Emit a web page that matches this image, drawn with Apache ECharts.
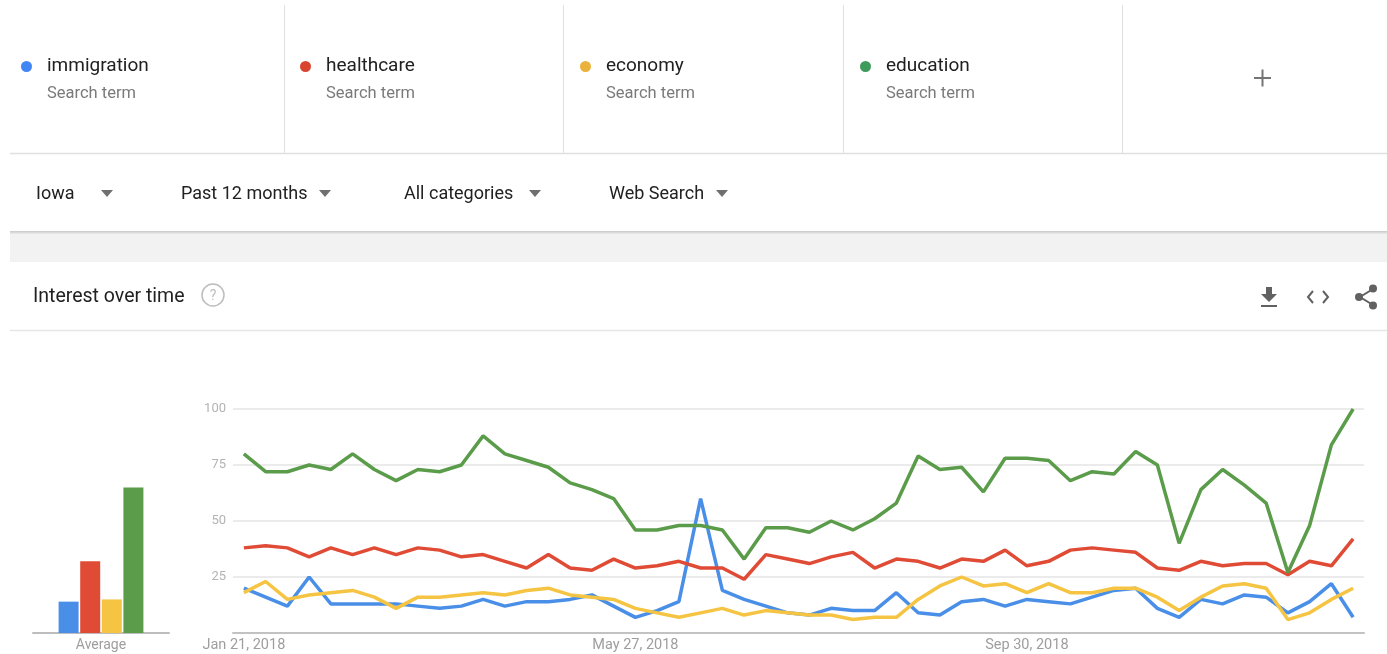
<!DOCTYPE html>
<html>
<head>
<meta charset="utf-8">
<title>Interest over time</title>
<script src="https://cdn.jsdelivr.net/npm/echarts@6/dist/echarts.min.js"></script>
<style>
  html, body { margin: 0; padding: 0; background: #ffffff; }
  #chart { width: 1387px; height: 654px; }
</style>
</head>
<body>
<div id="chart"></div>
<script>
// Weekly interest, Iowa, past 12 months
const categories = [
  'Jan 21, 2018','Jan 28, 2018','Feb 4, 2018','Feb 11, 2018','Feb 18, 2018','Feb 25, 2018',
  'Mar 4, 2018','Mar 11, 2018','Mar 18, 2018','Mar 25, 2018','Apr 1, 2018','Apr 8, 2018',
  'Apr 15, 2018','Apr 22, 2018','Apr 29, 2018','May 6, 2018','May 13, 2018','May 20, 2018',
  'May 27, 2018','Jun 3, 2018','Jun 10, 2018','Jun 17, 2018','Jun 24, 2018','Jul 1, 2018',
  'Jul 8, 2018','Jul 15, 2018','Jul 22, 2018','Jul 29, 2018','Aug 5, 2018','Aug 12, 2018',
  'Aug 19, 2018','Aug 26, 2018','Sep 2, 2018','Sep 9, 2018','Sep 16, 2018','Sep 23, 2018',
  'Sep 30, 2018','Oct 7, 2018','Oct 14, 2018','Oct 21, 2018','Oct 28, 2018','Nov 4, 2018',
  'Nov 11, 2018','Nov 18, 2018','Nov 25, 2018','Dec 2, 2018','Dec 9, 2018','Dec 16, 2018',
  'Dec 23, 2018','Dec 30, 2018','Jan 6, 2019','Jan 13, 2019'
];
const tickDates = ['Jan 21, 2018', 'May 27, 2018', 'Sep 30, 2018'];
const yTicks = [25, 50, 75, 100];

const terms = ['immigration', 'healthcare', 'economy', 'education'];

const immigration = [20,16,12,25,13,13,13,13,12,11, 12,15,12,14,14,15,17,12,7,10,
                     14,60,19,15,12,9,8,11,10,10, 18,9,8,14,15,12,15,14,13,16,
                     19,20,11,7,15,13,17,16,9,14, 22,7];
const healthcare  = [38,39,38,34,38,35,38,35,38,37, 34,35,32,29,35,29,28,33,29,30,
                     32,29,29,24,35,33,31,34,36,29, 33,32,29,33,32,37,30,32,37,38,
                     37,36,29,28,32,30,31,31,26,32, 30,42];
const economy     = [18,23,15,17,18,19,16,11,16,16, 17,18,17,19,20,17,16,15,11,9,
                     7,9,11,8,10,9,8,8,6,7, 7,15,21,25,21,22,18,22,18,18,
                     20,20,16,10,16,21,22,20,6,9, 15,20];
const education   = [80,72,72,75,73,80,73,68,73,72, 75,88,80,77,74,67,64,60,46,46,
                     48,48,46,33,47,47,45,50,46,51, 58,79,73,74,63,78,78,77,68,72,
                     71,81,75,40,64,73,66,58,27,48, 84,100];

// Average interest over the whole period
const averages = [14, 32, 15, 65];

const seriesValues = [immigration, healthcare, economy, education];
const lineColors = ['#4a8fe7', '#e04b36', '#f5c443', '#5a9c4a'];
const dotColors  = ['#4285f4', '#d9452f', '#eab23a', '#3f9b5b'];

const chart = echarts.init(document.getElementById('chart'), null, { renderer: 'canvas' });

const FONT = 'Roboto, "Noto Sans", Arial, sans-serif';
const termColumns = [21, 300, 580, 860];

// Legends: one block per search term column
const legends = terms.map((t, i) => ({
  data: [{ name: t, icon: 'circle', itemStyle: { color: dotColors[i] } }],
  left: termColumns[i],
  top: 57,
  padding: 0,
  itemWidth: 11,
  itemHeight: 11,
  selectedMode: false,
  textStyle: { fontFamily: FONT, fontSize: 19, color: '#212121', padding: [0, 0, 0, 10] }
}));

// Page chrome: separators, filters, card header and icons
const gray = '#e0e0e0';
const graphics = [];
[284, 563, 843, 1122].forEach(x => {
  graphics.push({ type: 'line', shape: { x1: x + 0.5, y1: 5, x2: x + 0.5, y2: 153 }, style: { stroke: gray, lineWidth: 1 } });
});
graphics.push({ type: 'line', shape: { x1: 10, y1: 153.5, x2: 1387, y2: 153.5 }, style: { stroke: gray, lineWidth: 1.5 } });
terms.forEach((t, i) => {
  graphics.push({ type: 'text', x: termColumns[i] + 26, y: 94,
    style: { text: 'Search term', font: '16.5px ' + FONT, fill: '#7a7a7a', align: 'left', verticalAlign: 'middle' } });
});
// add term button
graphics.push({ type: 'rect', shape: { x: 1254, y: 77, width: 17, height: 2 }, style: { fill: '#757575' } });
graphics.push({ type: 'rect', shape: { x: 1261.5, y: 69.5, width: 2, height: 17 }, style: { fill: '#757575' } });

// filter row
const filters = [
  { label: 'Iowa', x: 36, arrow: 107 },
  { label: 'Past 12 months', x: 181, arrow: 325 },
  { label: 'All categories', x: 404, arrow: 535 },
  { label: 'Web Search', x: 609, arrow: 722 }
];
filters.forEach(f => {
  graphics.push({ type: 'text', x: f.x, y: 194,
    style: { text: f.label, font: '18px ' + FONT, fill: '#212121', align: 'left', verticalAlign: 'middle' } });
  graphics.push({ type: 'polygon', shape: { points: [[f.arrow - 6, 190], [f.arrow + 6, 190], [f.arrow, 197]] },
    style: { fill: '#6f6f6f' } });
});

// shadow under the filter bar and the gray gap
graphics.push({ type: 'rect', shape: { x: 10, y: 231, width: 1377, height: 3 },
  style: { fill: new echarts.graphic.LinearGradient(0, 0, 0, 1, [
    { offset: 0, color: '#c8c8c8' }, { offset: 1, color: '#ececec' }]) } });
graphics.push({ type: 'rect', shape: { x: 10, y: 234, width: 1377, height: 28 }, style: { fill: '#f2f2f2' } });

// card header
graphics.push({ type: 'text', x: 33, y: 297,
  style: { text: 'Interest over time', font: '19.5px ' + FONT, fill: '#212121', align: 'left', verticalAlign: 'middle' } });
graphics.push({ type: 'circle', shape: { cx: 213, cy: 295, r: 11 }, style: { fill: 'none', stroke: '#bdbdbd', lineWidth: 1.5 } });
graphics.push({ type: 'text', x: 213, y: 296,
  style: { text: '?', font: '14px ' + FONT, fill: '#bdbdbd', align: 'center', verticalAlign: 'middle' } });
graphics.push({ type: 'line', shape: { x1: 10, y1: 330.5, x2: 1387, y2: 330.5 }, style: { stroke: '#e6e6e6', lineWidth: 1.5 } });

// download icon
graphics.push({ type: 'rect', shape: { x: 1266, y: 287, width: 6, height: 7 }, style: { fill: '#616161' } });
graphics.push({ type: 'polygon', shape: { points: [[1261, 294], [1277, 294], [1269, 302]] }, style: { fill: '#616161' } });
graphics.push({ type: 'rect', shape: { x: 1261, y: 305, width: 16, height: 2 }, style: { fill: '#616161' } });
// embed icon
graphics.push({ type: 'polyline', shape: { points: [[1313, 291], [1308, 297], [1313, 303]] }, style: { stroke: '#616161', lineWidth: 2, fill: null } });
graphics.push({ type: 'polyline', shape: { points: [[1323, 291], [1328, 297], [1323, 303]] }, style: { stroke: '#616161', lineWidth: 2, fill: null } });
// share icon
graphics.push({ type: 'polyline', shape: { points: [[1373, 289], [1360, 297], [1373, 305]] }, style: { stroke: '#616161', lineWidth: 2, fill: null } });
[[1373, 288.5], [1359, 297], [1373, 305.5]].forEach(p => {
  graphics.push({ type: 'circle', shape: { cx: p[0], cy: p[1], r: 4 }, style: { fill: '#616161' } });
});

const lineSeries = terms.map((t, i) => ({
  name: t,
  type: 'line',
  xAxisIndex: 1,
  yAxisIndex: 1,
  data: seriesValues[i],
  symbol: 'none',
  smooth: false,
  lineStyle: { width: 3.5, color: lineColors[i] },
  itemStyle: { color: lineColors[i] },
  z: 3 + i,
  silent: true
}));

const barSeries = terms.map((t, i) => ({
  name: t,
  type: 'bar',
  xAxisIndex: 0,
  yAxisIndex: 0,
  data: [averages[i]],
  barWidth: 20,
  barGap: '8%',
  itemStyle: { color: lineColors[i] },
  silent: true
}));

const option = {
  backgroundColor: '#ffffff',
  animation: false,
  legend: legends,
  graphic: graphics,
  grid: [
    { left: 33, right: 1387 - 169, top: 409, bottom: 21 },
    { left: 233, right: 23, top: 409, bottom: 21 }
  ],
  xAxis: [
    {
      type: 'category', gridIndex: 0, data: ['Average'],
      axisLine: { lineStyle: { color: '#bdbdbd', width: 2 } },
      axisTick: { show: false },
      axisLabel: { color: '#9e9e9e', fontSize: 14, fontFamily: FONT, margin: 5 }
    },
    {
      type: 'category', gridIndex: 1, data: categories, boundaryGap: true,
      axisLine: { lineStyle: { color: '#c2c2c2', width: 2 } },
      axisTick: { show: false },
      axisLabel: {
        color: '#9e9e9e', fontSize: 14.5, fontFamily: FONT, margin: 5,
        interval: (idx, val) => tickDates.indexOf(val) !== -1
      },
      splitLine: { show: false }
    }
  ],
  yAxis: [
    {
      type: 'value', gridIndex: 0, min: 0, max: 100, interval: 25,
      show: false
    },
    {
      type: 'value', gridIndex: 1, min: 0, max: 100, interval: 25,
      axisLine: { show: false }, axisTick: { show: false },
      axisLabel: {
        color: '#b3b3b3', fontSize: 13, fontFamily: FONT, margin: 7,
        formatter: v => (yTicks.indexOf(v) !== -1 ? String(v) : '')
      },
      splitLine: { lineStyle: { color: '#e4e4e4', width: 1.5 } }
    }
  ],
  series: barSeries.concat(lineSeries)
};

chart.setOption(option);
</script>
</body>
</html>
